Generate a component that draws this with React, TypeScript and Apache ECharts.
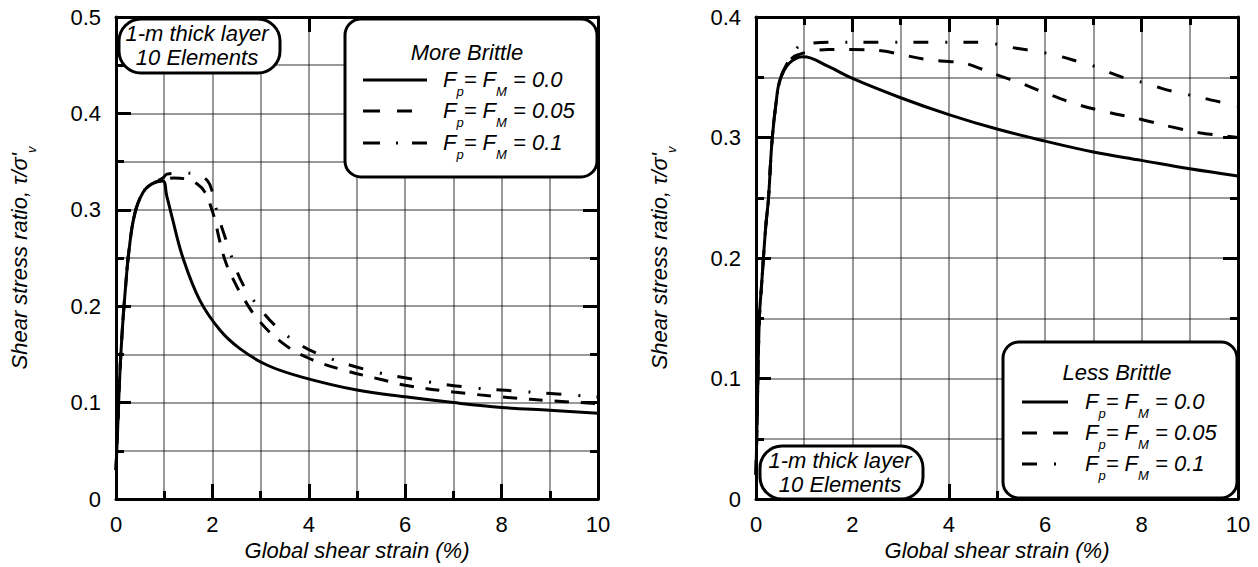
import React, { useEffect, useRef } from 'react';
import * as echarts from 'echarts';

const FONT = "'Liberation Sans', Arial, Helvetica, sans-serif";

// ---- axis ticks ----
const X_TICKS = [0, 2, 4, 6, 8, 10];
const LEFT_Y_TICKS = [0, 0.1, 0.2, 0.3, 0.4, 0.5];
const RIGHT_Y_TICKS = [0, 0.1, 0.2, 0.3, 0.4];

// ---- legend labels ----
const F_VALUES = ['0.0', '0.05', '0.1'];
const LEFT_TITLE = 'More Brittle';
const RIGHT_TITLE = 'Less Brittle';
const NOTE_LINES = ['1-m thick layer', '10 Elements'];
const X_NAME = 'Global shear strain (%)';

// ---- Left panel (More Brittle) ----
const L_SOLID_X = [0, 0.04, 0.08, 0.13, 0.19, 0.27, 0.39, 0.56, 0.75, 0.97, 1.05, 1.16, 1.39, 1.74, 2.16, 2.57, 3.13, 3.82, 5, 6, 7, 8, 9, 10];
const L_SOLID_Y = [0.03, 0.08, 0.13, 0.175, 0.215, 0.258, 0.296, 0.318, 0.327, 0.33, 0.315, 0.293, 0.25, 0.206, 0.175, 0.156, 0.139, 0.127, 0.113, 0.106, 0.1, 0.095, 0.092, 0.089];

const L_DASH_X = [0, 0.04, 0.08, 0.13, 0.19, 0.27, 0.39, 0.56, 0.75, 0.97, 1.2, 1.45, 1.68, 1.85, 1.95, 2.05, 2.15, 2.28, 2.45, 2.6, 2.95, 3.45, 4.0, 4.7, 5.5, 6, 7, 8.2, 9, 10];
const L_DASH_Y = [0.03, 0.08, 0.13, 0.175, 0.215, 0.258, 0.296, 0.318, 0.327, 0.331, 0.333, 0.332, 0.327, 0.318, 0.306, 0.29, 0.268, 0.245, 0.226, 0.212, 0.186, 0.162, 0.146, 0.134, 0.124, 0.118, 0.111, 0.105, 0.102, 0.099];

const L_DOT_X = [0, 0.04, 0.08, 0.13, 0.19, 0.27, 0.39, 0.56, 0.75, 0.97, 1.06, 1.4, 1.72, 1.9, 1.99, 2.1, 2.26, 2.43, 2.64, 2.95, 3.3, 3.7, 4.17, 5.2, 6.2, 7.27, 8.3, 9.4, 10];
const L_DOT_Y = [0.03, 0.08, 0.13, 0.175, 0.215, 0.258, 0.296, 0.318, 0.327, 0.333, 0.337, 0.338, 0.336, 0.33, 0.32, 0.297, 0.272, 0.247, 0.222, 0.2, 0.18, 0.164, 0.151, 0.134, 0.124, 0.116, 0.112, 0.108, 0.106];

// ---- Right panel (Less Brittle) ----
const R_SOLID_X = [0, 0.03, 0.07, 0.12, 0.2, 0.26, 0.33, 0.42, 0.5, 0.7, 0.98, 1.5, 2, 3, 4, 5, 6, 7, 8, 9, 10];
const R_SOLID_Y = [0.02, 0.08, 0.15, 0.18, 0.225, 0.25, 0.296, 0.33, 0.348, 0.362, 0.367, 0.359, 0.349, 0.333, 0.319, 0.307, 0.297, 0.288, 0.281, 0.274, 0.268];

const R_DASH_X = [0, 0.03, 0.07, 0.12, 0.2, 0.26, 0.33, 0.42, 0.5, 0.6, 0.75, 0.9, 1.2, 1.5, 2.0, 2.6, 3.0, 3.5, 4.0, 4.3, 4.6, 5.0, 5.5, 6.0, 6.7, 7.3, 8.0, 8.6, 9.2, 10];
const R_DASH_Y = [0.02, 0.08, 0.15, 0.18, 0.225, 0.25, 0.296, 0.33, 0.348, 0.357, 0.366, 0.369, 0.372, 0.373, 0.373, 0.372, 0.369, 0.365, 0.363, 0.362, 0.358, 0.352, 0.345, 0.337, 0.327, 0.321, 0.315, 0.309, 0.304, 0.3];

const R_DOT_X = [0, 0.03, 0.07, 0.12, 0.2, 0.26, 0.33, 0.42, 0.5, 0.6, 0.75, 0.9, 1.1, 1.5, 2, 3, 4, 4.7, 5.05, 5.4, 5.75, 6.25, 6.76, 7.1, 7.4, 7.76, 8.1, 8.4, 8.78, 9.15, 9.45, 9.8, 10];
const R_DOT_Y = [0.02, 0.08, 0.15, 0.18, 0.225, 0.25, 0.296, 0.33, 0.348, 0.358, 0.368, 0.376, 0.378, 0.379, 0.379, 0.379, 0.379, 0.379, 0.377, 0.374, 0.372, 0.368, 0.362, 0.358, 0.353, 0.348, 0.345, 0.341, 0.337, 0.334, 0.331, 0.328, 0.326];

const zip = (xs: number[], ys: number[]) => xs.map((x, i) => [x, ys[i]]);

const GRID_STYLE = { color: 'rgba(0,0,0,0.4)', width: 2 };

function yLabel(v: number) {
  return v === 0 ? '0' : v.toFixed(1);
}

function xAxisPair(gridIndex: number) {
  const min = X_TICKS[0];
  const max = X_TICKS[X_TICKS.length - 1];
  const interval = X_TICKS[1] - X_TICKS[0];
  const base = {
    type: 'value',
    gridIndex,
    min,
    max,
    interval,
    axisLine: { show: true, onZero: false, lineStyle: { color: '#000', width: 3 } },
    axisTick: { show: true, inside: true, length: 15, lineStyle: { color: '#000', width: 3 } },
    minorTick: { show: true, splitNumber: 2, length: 8, lineStyle: { color: '#000', width: 3 } },
  };
  return [
    {
      ...base,
      position: 'bottom',
      axisLabel: { show: true, margin: 14, color: '#000', fontSize: 22, fontFamily: FONT },
      splitLine: { show: true, lineStyle: GRID_STYLE },
      minorSplitLine: { show: true, lineStyle: GRID_STYLE },
      name: X_NAME,
      nameLocation: 'middle',
      nameGap: 40,
      nameTextStyle: { color: '#000', fontSize: 22, fontStyle: 'italic', fontFamily: FONT },
    },
    {
      ...base,
      position: 'top',
      axisLabel: { show: false },
      splitLine: { show: false },
      minorSplitLine: { show: false },
    },
  ];
}

function yAxisPair(gridIndex: number, ticks: number[]) {
  const min = ticks[0];
  const max = ticks[ticks.length - 1];
  const interval = ticks[1] - ticks[0];
  const base = {
    type: 'value',
    gridIndex,
    min,
    max,
    interval,
    axisLine: { show: true, onZero: false, lineStyle: { color: '#000', width: 3 } },
    axisTick: { show: true, inside: true, length: 15, lineStyle: { color: '#000', width: 3 } },
    minorTick: { show: true, splitNumber: 2, length: 8, lineStyle: { color: '#000', width: 3 } },
  };
  return [
    {
      ...base,
      position: 'left',
      axisLabel: { show: true, margin: 15, color: '#000', fontSize: 22, fontFamily: FONT, formatter: yLabel },
      splitLine: { show: true, lineStyle: GRID_STYLE },
      minorSplitLine: { show: true, lineStyle: GRID_STYLE },
      name: "{a|Shear stress ratio, τ/σ'}{s|v}",
      nameLocation: 'middle',
      nameRotate: 90,
      nameGap: 78,
      nameTextStyle: {
        color: '#000',
        fontFamily: FONT,
        rich: {
          a: { fontSize: 22, fontStyle: 'italic', fontFamily: FONT, color: '#000', lineHeight: 30, verticalAlign: 'top' },
          s: { fontSize: 13, fontStyle: 'italic', fontFamily: FONT, color: '#000', lineHeight: 12, verticalAlign: 'bottom' },
        },
      },
    },
    {
      ...base,
      position: 'right',
      axisLabel: { show: false },
      splitLine: { show: false },
      minorSplitLine: { show: false },
    },
  ];
}

const DASHED_L = [14, 12];
const DASHED_R = [15, 15];
const DASHDOT = [15, 17, 2, 16];

function line(data: number[][], xi: number, yi: number, type: any) {
  return {
    type: 'line',
    xAxisIndex: xi,
    yAxisIndex: yi,
    data,
    showSymbol: false,
    symbol: 'none',
    smooth: 0.4,
    lineStyle: { color: '#000', width: 3, type, cap: 'butt' },
    z: 5,
  };
}

const RICH = {
  i: { fontSize: 22, fontStyle: 'italic', fontFamily: FONT, fill: '#000', lineHeight: 30, verticalAlign: 'top' },
  s: { fontSize: 13, fontStyle: 'italic', fontFamily: FONT, fill: '#000', lineHeight: 12, verticalAlign: 'bottom' },
};

function fLabel(v: string) {
  return `{i|F}{s|p}{i|= F}{s|M}{i| = ${v}}`;
}

function legendBox(
  box: { x: number; y: number; w: number; h: number },
  title: string,
  titleX: number,
  titleY: number,
  rows: number[],
  lineX0: number,
  lineLens: number[],
  dashes: any[],
  textX: number
) {
  const children: any[] = [
    {
      type: 'rect',
      shape: { x: box.x, y: box.y, width: box.w, height: box.h, r: 16 },
      style: { fill: '#fff', stroke: '#000', lineWidth: 3 },
      z: 100,
    },
    {
      type: 'text',
      x: titleX,
      y: titleY,
      style: { text: title, fontSize: 22, fontStyle: 'italic', fontFamily: FONT, fill: '#000', align: 'center', verticalAlign: 'middle' },
      z: 101,
    },
  ];
  rows.forEach((ry, i) => {
    children.push({
      type: 'line',
      shape: { x1: lineX0, y1: ry, x2: lineX0 + lineLens[i], y2: ry },
      style: { stroke: '#000', lineWidth: 3, lineDash: dashes[i], lineCap: 'butt' },
      z: 101,
    });
    children.push({
      type: 'text',
      x: textX,
      y: ry + 3,
      style: { text: fLabel(F_VALUES[i]), rich: RICH, align: 'left', verticalAlign: 'middle', fill: '#000' },
      z: 101,
    });
  });
  return children;
}

function noteBox(x: number, y: number, w: number, h: number, cx: number, cy: number) {
  return [
    {
      type: 'rect',
      shape: { x, y, width: w, height: h, r: 22 },
      style: { fill: '#fff', stroke: '#000', lineWidth: 3 },
      z: 100,
    },
    {
      type: 'text',
      x: cx,
      y: cy,
      style: {
        text: NOTE_LINES.join('\n'),
        fontSize: 22,
        fontStyle: 'italic',
        fontFamily: FONT,
        fill: '#000',
        align: 'center',
        verticalAlign: 'middle',
        lineHeight: 24,
      },
      z: 101,
    },
  ];
}

export default function App() {
  const ref = useRef<HTMLDivElement>(null);
  useEffect(() => {
    if (!ref.current) return;
    const chart = echarts.init(ref.current, undefined, { renderer: 'svg' });
    const option: any = {
      animation: false,
      backgroundColor: '#fff',
      grid: [
        { left: 116, top: 17, width: 482, height: 482, containLabel: false },
        { left: 756, top: 17, width: 482, height: 482, containLabel: false },
      ],
      xAxis: [...xAxisPair(0), ...xAxisPair(1)],
      yAxis: [...yAxisPair(0, LEFT_Y_TICKS), ...yAxisPair(1, RIGHT_Y_TICKS)],
      series: [
        line(zip(L_SOLID_X, L_SOLID_Y), 0, 0, 'solid'),
        line(zip(L_DASH_X, L_DASH_Y), 0, 0, DASHED_L),
        line(zip(L_DOT_X, L_DOT_Y), 0, 0, DASHDOT),
        line(zip(R_SOLID_X, R_SOLID_Y), 2, 2, 'solid'),
        line(zip(R_DASH_X, R_DASH_Y), 2, 2, DASHED_R),
        line(zip(R_DOT_X, R_DOT_Y), 2, 2, DASHDOT),
      ],
      graphic: [
        ...legendBox({ x: 345, y: 19, w: 252, h: 158 }, LEFT_TITLE, 467, 52, [80, 111, 143], 363, [64, 49, 64], [null, [17, 17], [17, 16, 2, 14]], 443),
        ...legendBox({ x: 1003, y: 342, w: 234, h: 156 }, RIGHT_TITLE, 1117, 372, [402, 433, 464], 1022, [46, 46, 35], [null, [15, 16], [15, 17, 2, 16]], 1085),
        ...noteBox(119, 19, 161, 54, 197, 45),
        ...noteBox(760, 446, 163, 53, 840, 472),
      ],
    };
    chart.setOption(option);
    return () => chart.dispose();
  }, []);
  return (
    <div
      ref={ref}
      style={{ position: 'absolute', left: 0, top: 0, width: 1258, height: 567, background: '#fff' }}
    />
  );
}
